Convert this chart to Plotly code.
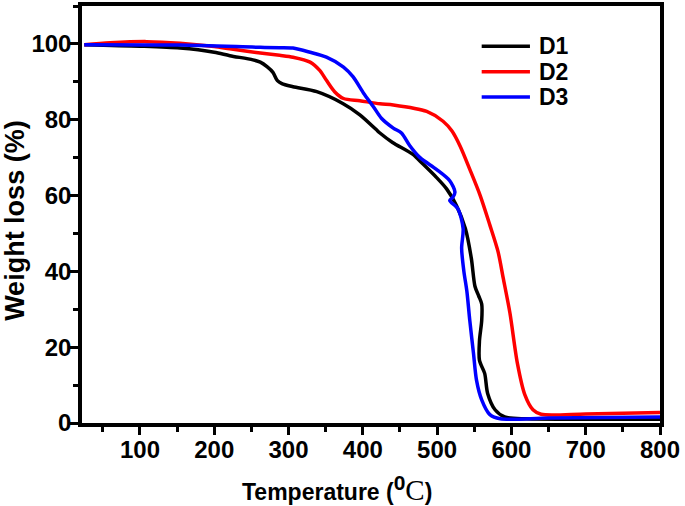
import plotly.graph_objects as go

# D1 (black)
d1_t = [25, 100, 154, 200, 221, 252, 262, 271, 279, 285, 291, 306, 338, 373, 396, 418, 423, 440, 467, 481, 499, 513, 526, 538, 546, 551, 556, 560, 560, 557, 557, 564, 568, 578, 591, 620, 700, 800]
d1_w = [99.8, 99.4, 98.9, 97.8, 96.9, 95.8, 95.2, 94.0, 92.5, 90.3, 89.5, 88.7, 87.4, 84.3, 81.3, 77.4, 76.5, 74.0, 70.9, 68.3, 64.8, 61.7, 57.4, 51.3, 43.5, 36.0, 33.5, 31.4, 27.0, 21.7, 16.5, 13.1, 7.8, 3.5, 1.6, 1.1, 1.0, 1.0]

# D2 (red)
d2_t = [25, 60, 109, 154, 200, 221, 262, 288, 306, 329, 342, 351, 362, 374, 396, 423, 441, 486, 508, 520, 531, 544, 558, 571, 582, 589, 598, 608, 618, 629, 640, 700, 800]
d2_w = [99.8, 100.3, 100.6, 100.2, 99.3, 98.7, 97.6, 97.0, 96.5, 95.2, 93.0, 90.4, 87.4, 85.6, 85.0, 84.2, 83.9, 82.2, 79.6, 77.0, 73.0, 66.9, 60.0, 52.2, 45.2, 38.2, 29.0, 15.8, 7.5, 3.5, 2.3, 2.4, 2.8]

# D3 (blue)
d3_t = [25, 154, 262, 288, 306, 329, 351, 374, 387, 401, 414, 425, 441, 452, 463, 477, 499, 517, 524, 521, 517, 528, 535, 533, 536, 540, 544, 549, 553, 560, 571, 585, 650, 800]
d3_w = [99.8, 99.7, 99.1, 99.0, 98.9, 97.8, 96.5, 93.9, 91.3, 87.0, 83.5, 80.4, 77.8, 76.5, 73.2, 70.0, 66.9, 63.9, 60.9, 59.5, 58.7, 56.5, 51.3, 46.1, 40.0, 34.8, 27.0, 18.3, 11.3, 6.1, 2.2, 1.1, 1.3, 1.6]

series_names = ["D1", "D2", "D3"]
series_colors = ["#000000", "#ff0000", "#0000ff"]
x_ticks = [100, 200, 300, 400, 500, 600, 700, 800]
y_ticks = [0, 20, 40, 60, 80, 100]

FONT = "Liberation Sans, Arial, sans-serif"

fig = go.Figure()
for t, w, name, col in zip([d1_t, d2_t, d3_t], [d1_w, d2_w, d3_w], series_names, series_colors):
    fig.add_trace(go.Scatter(x=t, y=w, mode="lines", name=name,
                             line=dict(color=col, width=3.5, shape="spline", smoothing=0.8),
                             showlegend=False))

axis_common = dict(showgrid=False, zeroline=False, showline=True, linecolor="black", linewidth=3.5,
                   mirror=True, ticks="outside", ticklen=8, tickwidth=3, tickcolor="black",
                   tickfont=dict(family=FONT, size=24, color="black", weight="bold"))

fig.update_xaxes(range=[22, 800], tickvals=x_ticks, ticktext=[str(v) for v in x_ticks],
                 ticklabelstandoff=-6,
                 minor=dict(tickmode="linear", tick0=0, dtick=50, ticks="outside", ticklen=5, tickwidth=2.5, tickcolor="black"),
                 **axis_common)
fig.update_yaxes(range=[0, 110], tickvals=y_ticks, ticktext=[str(v) for v in y_ticks],
                 ticklabelstandoff=-6,
                 minor=dict(tickmode="linear", tick0=0, dtick=10, ticks="outside", ticklen=5, tickwidth=2.5, tickcolor="black"),
                 **axis_common)

# legend drawn manually
leg_y = [0.9033, 0.8425, 0.7815]
for name, col, yy in zip(series_names, series_colors, leg_y):
    fig.add_shape(type="line", xref="paper", yref="paper", x0=0.6915, x1=0.775, y0=yy, y1=yy,
                  line=dict(color=col, width=3.5))
    fig.add_annotation(xref="paper", yref="paper", x=0.7867, y=yy, text=name, showarrow=False,
                       xanchor="left", yanchor="middle",
                       font=dict(family=FONT, size=23, color="black", weight="bold"))

# axis titles
fig.add_annotation(xref="paper", yref="paper", x=0.441, y=-0.157, xanchor="center", yanchor="middle",
                   showarrow=False,
                   text="<b>Temperature (</b><sup><b><span style='font-size:21px'>0</span></b></sup>"
                        "<span style='font-family:Liberation Serif, Times New Roman, serif;font-size:29px'>C</span><b>)</b>",
                   font=dict(family=FONT, size=23, color="black"))
fig.add_annotation(xref="paper", yref="paper", x=-0.116, y=0.487, xanchor="center", yanchor="middle",
                   showarrow=False, textangle=-90,
                   text="<b>Weight loss (%)</b>",
                   font=dict(family=FONT, size=27, color="black"))

fig.update_layout(width=685, height=506, margin=dict(l=82, r=25, t=2, b=83),
                  paper_bgcolor="white", plot_bgcolor="white", showlegend=False)

fig.write_html("out.html", config={"displayModeBar": False},
               post_script="document.body.style.margin='0';document.body.style.overflow='hidden';")
